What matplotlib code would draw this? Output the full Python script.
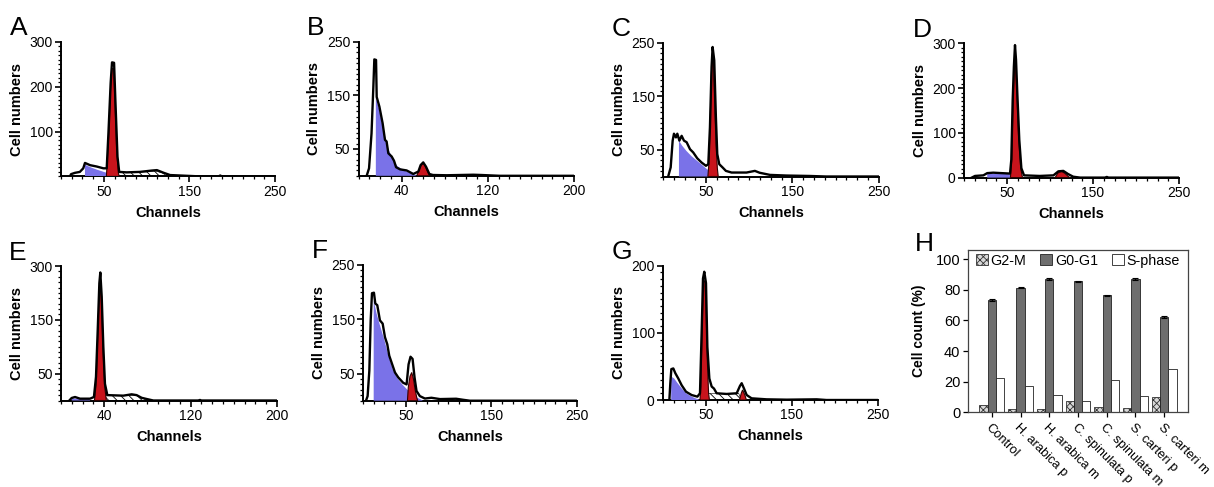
import numpy as np
import matplotlib
matplotlib.use("Agg")
import matplotlib.pyplot as plt
from matplotlib.ticker import MultipleLocator

plt.rcParams['font.family'] = ['Liberation Sans', 'DejaVu Sans']
plt.rcParams['hatch.linewidth'] = 0.6

# ---------- histogram data: (channel, cell count) ----------
a_outline = [(10.5, 0), (11.7, 5), (16.4, 8), (22, 10), (26, 18), (28, 30), (34, 25), (41.7, 22),
             (49.5, 18), (53.4, 18), (55.4, 96), (58, 208), (59.6, 254), (62, 253), (63.5, 171),
             (66, 44), (68, 10), (76.8, 9), (92, 10), (106, 13), (112, 14), (120, 8), (127.5, 3),
             (151, 1), (162.6, 0), (184, 0), (186, 2), (188, 0), (250, 0)]
a_blue = [(28, 0), (28, 26), (35, 20), (42, 15), (50, 10), (57, 6), (63, 2), (66, 0)]
a_red = [[(53, 0), (53.5, 15), (56, 100), (58, 200), (59.6, 240), (61.5, 240), (63, 170),
          (65, 60), (67, 8), (68, 0)]]
a_hatch = [(58, 0), (63, 7), (70, 9), (100, 10), (110, 12), (118, 8), (122, 3), (124, 0)]

b_outline = [(7.5, 0), (9.7, 14), (12, 79), (13.7, 166), (14.6, 217), (16.2, 216), (16.8, 147),
             (19.3, 129), (22.3, 98), (24.5, 67), (26, 64), (27.6, 42), (30.7, 36), (32.9, 28),
             (34.8, 16), (38.5, 12), (44.6, 10), (50.8, 3.4), (55.5, 8), (57.6, 20), (60, 25),
             (62.6, 17), (65.7, 3.4), (69, 1.5), (81.8, 1), (106.5, 2), (114, 1.5), (131, 0), (200, 0)]
b_blue = [(16, 0), (16, 145), (19, 125), (22, 95), (25, 70), (28, 48), (32, 30), (36, 18),
          (42, 10), (48, 5), (52, 2), (54, 0)]
b_red = [[(54, 0), (56, 10), (58, 20), (60, 24), (62, 18), (64, 8), (66, 0)]]
b_hatch = []

c_outline = [(6, 0), (8.9, 17), (11.2, 67), (12.7, 80), (15, 73), (16.6, 80), (19, 67), (21.6, 76),
             (24.3, 67), (27.4, 64), (31.3, 51), (35, 45), (39.7, 34), (44.8, 26), (49.8, 20),
             (52.5, 23), (54.4, 92), (56.3, 205), (57.5, 242), (59.4, 217), (61.3, 111), (62.9, 42),
             (65.2, 23), (69, 17), (72.9, 10.5), (79.5, 7.4), (96.8, 7.4), (106.5, 10.5), (112, 7),
             (124, 3), (143, 1.8), (170, 1), (189, 0), (250, 0)]
c_blue = [(18.5, 0), (18.5, 67), (22, 58), (27, 48), (33, 38), (39, 30), (45, 22), (50, 15),
          (54, 10), (58, 5), (61, 1.5), (62, 0)]
c_red = [[(52, 0), (53, 20), (54.5, 90), (56, 190), (57.3, 228), (58.5, 215), (60, 130),
          (61.5, 60), (63, 15), (64, 0)]]
c_hatch = []

d_outline = [(9, 0), (12.8, 3.7), (22.5, 5), (27, 10), (34, 11), (53.5, 9), (55, 40), (56.6, 173),
             (58, 248), (59.3, 296), (60.5, 263), (62, 188), (64.3, 84), (66.7, 21), (69.8, 5),
             (88, 3.7), (104, 5), (109.7, 14), (115.5, 15), (121, 8), (127, 2), (135, 0),
             (164, 0), (166, 1.5), (168, 0), (250, 0)]
d_blue = [(27, 0), (27, 8), (35, 9), (45, 8.5), (54, 7.5), (57, 0)]
d_red = [[(54, 0), (55.5, 40), (57, 170), (58.5, 250), (60, 255), (61.5, 190), (63.5, 90),
          (66, 20), (68, 0)],
         [(106, 0), (109, 10), (113, 14), (117, 10), (121, 3), (123, 0)]]
d_hatch = []

e_outline = [(7.7, 0), (9.9, 4.7), (13, 6.5), (17.6, 3.4), (26.9, 3.4), (30.5, 6.5), (32.4, 44),
             (34, 131), (35.5, 218), (36.4, 238), (37.7, 193), (39.2, 100), (40.7, 31), (42.9, 10),
             (57.7, 9), (65.4, 11.5), (70, 10), (74.7, 5), (79.3, 2.8), (85.5, 0), (127, 0),
             (128.7, 1), (130, 0), (200, 0)]
e_blue = [(10, 0), (10, 3.5), (18, 3.5), (26, 3.5), (27, 0)]
e_red = [[(31, 0), (32.5, 30), (34, 120), (35.5, 205), (36.3, 225), (37.5, 180), (39, 90),
          (40.5, 25), (42, 0)]]
e_hatch = [(38, 0), (40, 9), (70, 9), (76, 4), (79, 0)]

f_outline = [(3.5, 0), (5.4, 8.5), (7.4, 55), (9, 148), (10.5, 198), (12.8, 199), (14.4, 179),
             (16.7, 176), (19.8, 148), (23, 142), (25.7, 117), (28.4, 104), (30.7, 83), (33.5, 70),
             (37.4, 52), (41.2, 43), (47, 33), (51, 30), (53.3, 67), (55.6, 81), (58, 77),
             (60.3, 43), (62.6, 18), (66.5, 8.5), (72.4, 4), (80, 5.4), (90, 3), (109, 3.6),
             (117, 1.7), (125, 0), (250, 0)]
f_blue = [(12.5, 0), (12.5, 185), (16, 160), (20, 138), (25, 112), (30, 82), (35, 57), (40, 42),
          (46, 30), (52, 20), (58, 12), (63, 6), (68, 2), (70, 0)]
f_red = [[(52, 0), (53, 25), (55, 45), (57, 52), (59, 40), (61, 20), (63, 5), (64, 0)]]
f_hatch = []

g_outline = [(7.4, 0), (8.5, 25), (9.7, 46), (12, 47), (14.3, 40), (17.8, 32), (21.7, 22),
             (26.7, 12.4), (33.3, 7.4), (40, 5), (43, 10), (45, 104), (46.5, 181), (48, 191),
             (50, 174), (51.6, 79), (53.9, 32), (56.6, 20), (59.3, 17), (62.4, 10), (74, 9),
             (85.7, 10), (89.5, 21), (91.5, 25), (94.2, 17), (97.3, 7.4), (103, 2.5), (120.5, 1),
             (143.8, 0.5), (178.7, 1), (190, 0), (250, 0)]
g_blue = [(9.5, 0), (9.5, 35), (13, 32), (17, 25), (22, 17), (27, 10), (32, 6), (37, 3),
          (41, 1), (42, 0)]
g_red = [[(43, 0), (44, 20), (45.5, 110), (47, 175), (48.5, 178), (50, 140), (51.5, 60),
          (53, 10), (54, 0)],
         [(89, 0), (91, 10), (92.5, 15), (95, 8), (97, 0)]]
g_hatch = [(51, 0), (52, 10), (88, 10), (91, 0)]

# ---------- bar chart data (panel H) ----------
categories = ['Control', 'H. arabica p', 'H. arabica m', 'C. spinulata p',
              'C. spinulata m', 'S. carteri p', 'S. carteri m']
g2m = [4.8, 2.0, 2.1, 7.4, 3.3, 2.6, 10.2]
g0g1 = [73.2, 81.3, 86.8, 85.6, 76.4, 86.8, 62.2]
g0g1_err = [0.8, 0.4, 0.6, 0.4, 0.4, 0.7, 0.8]
sphase = [22.2, 17.4, 11.3, 7.6, 21.4, 10.7, 28.3]

BLUE = '#7A72E8'
RED = '#C8141C'

W, H = 1214, 487
fig = plt.figure(figsize=(W / 100, H / 100), dpi=100)


def px_axes(x0, x1, ytop, ybot):
    return fig.add_axes([x0 / W, 1 - ybot / H, (x1 - x0) / W, (ybot - ytop) / H])


def draw_hist(ax, letter, outline, blue, reds, hatch, xmax, xticks, ymax, yticks,
              yticklabels=None, xminor=12.5, yminor=10):
    if hatch:
        hx, hy = zip(*hatch)
        ax.fill(hx, hy, facecolor='white', edgecolor='black', hatch='\\\\\\\\', lw=0.4, zorder=2)
    bx, by = zip(*blue)
    ax.fill(bx, by, color=BLUE, lw=0, zorder=3)
    for r in reds:
        rx, ry = zip(*r)
        ax.fill(rx, ry, facecolor=RED, edgecolor='#300000', lw=0.8, zorder=4)
    ox, oy = zip(*outline)
    ax.plot(ox, oy, color='black', lw=1.7, zorder=5, solid_joinstyle='round')

    ax.set_xlim(0, xmax)
    ax.set_ylim(0, ymax)
    for s in ['top', 'right']:
        ax.spines[s].set_visible(False)
    for s in ['left', 'bottom']:
        ax.spines[s].set_linewidth(1.4)
    ax.set_xticks(xticks)
    ax.set_yticks(yticks)
    if yticklabels is not None:
        ax.set_yticklabels(yticklabels)
    ax.xaxis.set_minor_locator(MultipleLocator(xminor))
    ax.yaxis.set_minor_locator(MultipleLocator(yminor))
    ax.tick_params(which='major', direction='out', length=4, width=1.2, labelsize=10, pad=2)
    ax.tick_params(which='minor', direction='out', length=2.2, width=0.9)
    ax.set_xlabel('Channels', fontsize=10.5, fontweight='bold', labelpad=5)
    ax.set_ylabel('Cell numbers', fontsize=10.5, fontweight='bold', labelpad=4)
    ax.patch.set_alpha(0)
    ax.text(-0.24, 1.1, letter, transform=ax.transAxes, fontsize=19, ha='left', va='center')


axA = px_axes(61, 275, 41.7, 176.4)
draw_hist(axA, 'A', a_outline, a_blue, a_red, a_hatch, 250, [50, 150, 250], 300, [100, 200, 300])
axB = px_axes(358.6, 574, 41.7, 175.8)
draw_hist(axB, 'B', b_outline, b_blue, b_red, b_hatch, 200, [40, 120, 200], 250, [50, 150, 250],
          xminor=10)
axC = px_axes(663, 878.7, 42.7, 176.5)
draw_hist(axC, 'C', c_outline, c_blue, c_red, c_hatch, 250, [50, 150, 250], 250, [50, 150, 250])
axD = px_axes(964, 1179, 43.3, 177.6)
draw_hist(axD, 'D', d_outline, d_blue, d_red, d_hatch, 250, [50, 150, 250], 300, [0, 100, 200, 300])
axE = px_axes(61, 277, 266, 400.5)
draw_hist(axE, 'E', e_outline, e_blue, e_red, e_hatch, 200, [40, 120, 200], 250, [50, 150, 250],
          yticklabels=['50', '150', '300'], xminor=10)
axF = px_axes(363, 576.7, 265, 400.7)
draw_hist(axF, 'F', f_outline, f_blue, f_red, f_hatch, 250, [50, 150, 250], 250, [50, 150, 250])
axG = px_axes(663, 878, 265.7, 400)
draw_hist(axG, 'G', g_outline, g_blue, g_red, g_hatch, 250, [50, 150, 250], 200, [0, 100, 200])

# ---------- panel H ----------
axH = px_axes(968, 1188, 250, 412.3)
x = np.arange(len(categories))
bw = 0.29
axH.bar(x - bw, g2m, bw, facecolor='#d8d8d8', edgecolor='#333333', hatch='xxxxx', lw=0.6,
        label='G2-M', zorder=2)
axH.bar(x, g0g1, bw, facecolor='#6e6e6e', edgecolor='#222222', lw=0.6, label='G0-G1', zorder=2,
        yerr=g0g1_err, error_kw=dict(ecolor='black', elinewidth=0.8, capsize=2, capthick=0.8))
axH.bar(x + bw, sphase, bw, facecolor='white', edgecolor='#222222', lw=0.6, label='S-phase',
        zorder=2)
axH.set_xlim(-0.83, 6.83)
axH.set_ylim(0, 106)
axH.set_yticks([0, 20, 40, 60, 80, 100])
axH.set_xticks(x)
axH.set_xticklabels(categories, rotation=-45, ha='left', va='top', rotation_mode='anchor')
axH.tick_params(axis='y', direction='out', length=3.5, width=0.9, labelsize=10.5, pad=2)
axH.tick_params(axis='x', direction='out', length=3.5, width=0.9, labelsize=9.3, pad=3)
for s in axH.spines.values():
    s.set_linewidth(0.9)
    s.set_color('#444444')
axH.set_ylabel('Cell count (%)', fontsize=10, fontweight='bold', labelpad=7)
axH.legend(loc='upper center', ncol=3, frameon=False, fontsize=10.3, handlelength=0.8,
           handleheight=0.8, handletextpad=0.2, columnspacing=1.0, borderaxespad=0.1,
           bbox_to_anchor=(0.5, 1.02))
axH.text(-0.24, 1.04, 'H', transform=axH.transAxes, fontsize=19, ha='left', va='center')

fig.savefig('out.png', dpi=100)
